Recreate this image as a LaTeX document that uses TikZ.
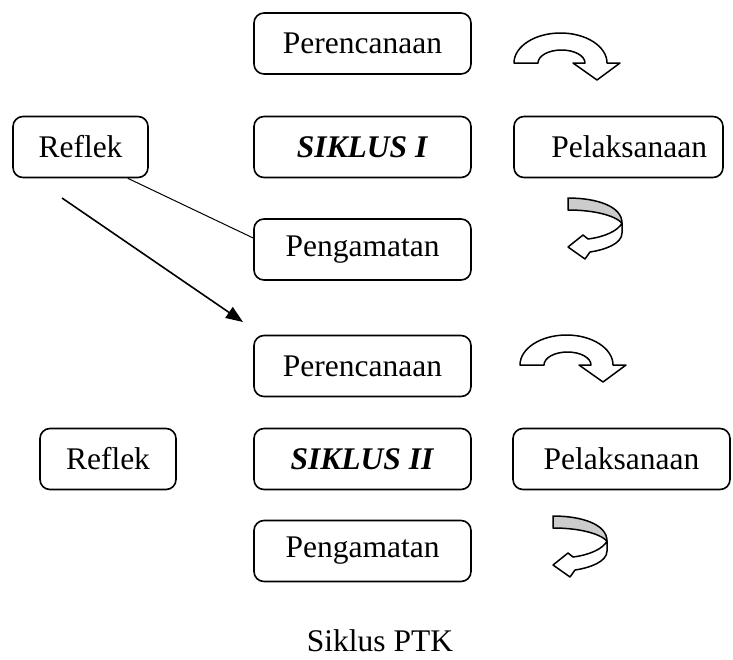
\documentclass[tikz,border=0pt]{standalone}
\usepackage{fontspec}
\setmainfont{Liberation Serif}
\usetikzlibrary{arrows.meta}

\begin{document}
\begin{tikzpicture}[x=1pt, y=-1pt]
  \tikzset{
  step_box/.style={draw, line width=1.6pt, rounded corners=10pt,
    minimum width=217pt, minimum height=61pt, inner sep=0pt,
    font=\fontsize{31.5}{36}\selectfont},
  turn_arrow/.pic={
    % arrow bent over the top
    \filldraw[fill=white, line width=1.5pt, line join=round]
      (0,0) arc[start angle=180, end angle=360, x radius=46.5, y radius=30]
      -- (106,0) -- (83,17) -- (59,0) -- (71,0)
      arc[start angle=0, end angle=-180, x radius=23.5, y radius=13]
      -- cycle;
  },
  uturn_arrow/.pic={
    % back of the band
    \filldraw[fill=gray!40, line width=1.5pt, line join=round]
      (0,0) .. controls (28,0) and (54,8) .. (54,25)
      .. controls (46,17) and (25,12) .. (0,12) -- cycle;
    % front of the band with its head
    \filldraw[fill=white, line width=1.5pt, line join=round]
      (54,25) -- (54,35) .. controls (54,46) and (36,52) .. (22,54)
      -- (17,61) -- (0,49) -- (15,37) -- (20,41)
      .. controls (36,39) and (50,33) .. (54,25) -- cycle;
  }
}
  \useasboundingbox (0,0) rectangle (733,659);

  % siklus I
  \node[step_box] (per1) at (362.5,43.5) {Perencanaan};
  \node[step_box] (sik1) at (362.5,147) {\textbf{\textit{SIKLUS I}}};
  \node[step_box, minimum width=209pt, text width=177pt, inner xsep=16pt,
    align=right] (pel1) at (618.5,147) {Pelaksanaan};
  \node[step_box] (pen1) at (362.5,249.5) {Pengamatan};
  \node[step_box, minimum width=135pt] (ref1) at (80.5,147) {Reflek};

  \pic (turn_a) at (514,63) {turn_arrow};
  \pic (back_a) at (568,198) {uturn_arrow};

  \draw[line width=1pt] ([xshift=-21pt]ref1.south east) -- ([yshift=11.5pt]pen1.west);

  % to the next cycle
  \coordinate (next_a) at (62,198);
  \coordinate (next_b) at (243,322);
  \draw[line width=1.6pt, -{Triangle[length=17pt, width=13pt]}] (next_a) -- (next_b);

  % siklus II
  \node[step_box] (per2) at (362.5,366) {Perencanaan};
  \node[step_box] (sik2) at (362.5,459) {\textbf{\textit{SIKLUS II}}};
  \node[step_box] (pel2) at (621.5,459) {Pelaksanaan};
  \node[step_box] (pen2) at (362.5,551) {Pengamatan};
  \node[step_box, minimum width=136pt] (ref2) at (108,459) {Reflek};

  \pic (turn_b) at (520,365) {turn_arrow};
  \pic (back_b) at (553,516) {uturn_arrow};

  % title
  \node[font=\fontsize{31.5}{36}\selectfont] (title) at (380,641) {Siklus PTK};
\end{tikzpicture}
\end{document}
